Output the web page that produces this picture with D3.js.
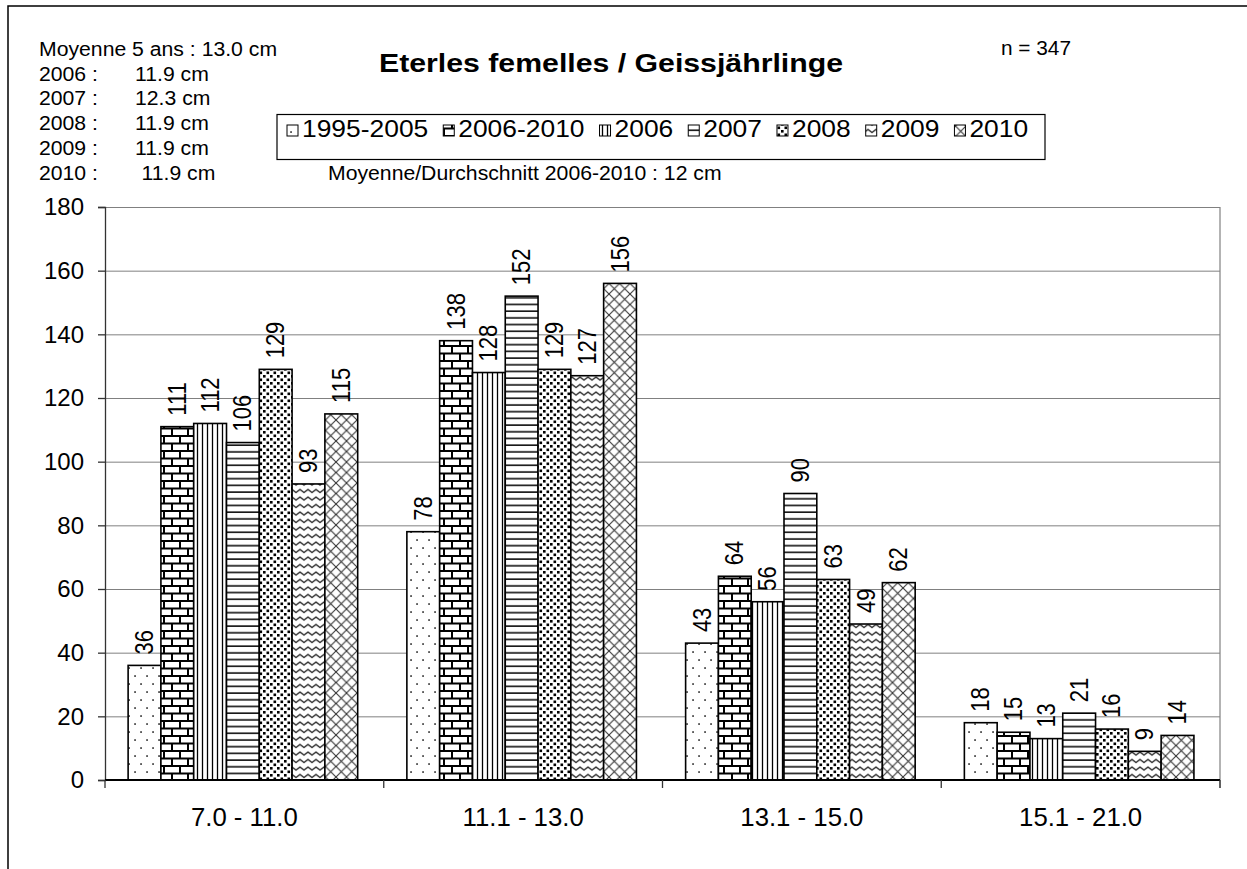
<!DOCTYPE html>
<html>
<head>
<meta charset="utf-8">
<script src="https://cdn.jsdelivr.net/npm/d3@7"></script>
<style>
  html, body { margin: 0; padding: 0; background: #fff; }
  svg { display: block; }
</style>
</head>
<body>
<script>
// ---------- DATA ----------
const categories = ["7.0 - 11.0", "11.1 - 13.0", "13.1 - 15.0", "15.1 - 21.0"];
const seriesNames = ["1995-2005", "2006-2010", "2006", "2007", "2008", "2009", "2010"];
const s1995_2005 = [36, 78, 43, 18];
const s2006_2010 = [111, 138, 64, 15];
const s2006 = [112, 128, 56, 13];
const s2007 = [106, 152, 90, 21];
const s2008 = [129, 129, 63, 16];
const s2009 = [93, 127, 49, 9];
const s2010 = [115, 156, 62, 14];
const yTicks = [0, 20, 40, 60, 80, 100, 120, 140, 160, 180];
const statLabels = ["Moyenne 5 ans : 13.0 cm", "2006 :", "2007 :", "2008 :", "2009 :", "2010 :"];
const statValues = ["", "11.9 cm", "12.3 cm", "11.9 cm", "11.9 cm", "11.9 cm"];
const titleText = "Eterles femelles / Geissjährlinge";
const nText = "n = 347";
const meanText = "Moyenne/Durchschnitt 2006-2010 : 12 cm";

const seriesValues = [s1995_2005, s2006_2010, s2006, s2007, s2008, s2009, s2010];

// ---------- LAYOUT ----------
const W = 1247, H = 869;
const X0 = 105, X1 = 1220, YT = 207, YB = 780;
const FONT = "'Liberation Sans', Arial, Helvetica, sans-serif";

const svg = d3.select("body").append("svg")
  .attr("width", W).attr("height", H)
  .style("font-family", FONT);

function stretch(sel, k) {
  sel.each(function () {
    const L = this.getComputedTextLength();
    d3.select(this).attr("textLength", L * k).attr("lengthAdjust", "spacingAndGlyphs");
  });
}

// ---------- PATTERNS ----------
const defs = svg.append("defs");
const pid = i => "pat" + i;
// 0: sparse dots
let p = defs.append("pattern").attr("id", pid(0)).attr("patternUnits", "userSpaceOnUse").attr("width", 12).attr("height", 16);
p.append("rect").attr("width", 12).attr("height", 16).attr("fill", "#fff");
p.append("rect").attr("x", 2.3).attr("y", 3.3).attr("width", 1.5).attr("height", 1.5).attr("fill", "#000");
p.append("rect").attr("x", 8.3).attr("y", 11.3).attr("width", 1.5).attr("height", 1.5).attr("fill", "#000");
// 1: bricks
p = defs.append("pattern").attr("id", pid(1)).attr("patternUnits", "userSpaceOnUse").attr("width", 16).attr("height", 15);
p.append("rect").attr("width", 16).attr("height", 15).attr("fill", "#fff");
p.append("path").attr("d", "M0,1 H16 M0,8.5 H16 M4,1 V8.5 M12,8.5 V15").attr("stroke", "#000").attr("stroke-width", 2).attr("fill", "none");
// 2: vertical lines
p = defs.append("pattern").attr("id", pid(2)).attr("patternUnits", "userSpaceOnUse").attr("width", 5).attr("height", 10);
p.append("rect").attr("width", 5).attr("height", 10).attr("fill", "#fff");
p.append("path").attr("d", "M2.5,0 V10").attr("stroke", "#000").attr("stroke-width", 1.3);
// 3: horizontal lines
p = defs.append("pattern").attr("id", pid(3)).attr("patternUnits", "userSpaceOnUse").attr("width", 10).attr("height", 6.7);
p.append("rect").attr("width", 10).attr("height", 6.7).attr("fill", "#fff");
p.append("path").attr("d", "M0,3 H10").attr("stroke", "#000").attr("stroke-width", 1.5);
// 4: dense dots
p = defs.append("pattern").attr("id", pid(4)).attr("patternUnits", "userSpaceOnUse").attr("width", 7).attr("height", 7);
p.append("rect").attr("width", 7).attr("height", 7).attr("fill", "#fff");
p.append("rect").attr("x", 0.5).attr("y", 0.5).attr("width", 2.6).attr("height", 2.6).attr("fill", "#000");
p.append("rect").attr("x", 4).attr("y", 4).attr("width", 2.6).attr("height", 2.6).attr("fill", "#000");
// 5: waves
p = defs.append("pattern").attr("id", pid(5)).attr("patternUnits", "userSpaceOnUse").attr("width", 8).attr("height", 7.5);
p.append("rect").attr("width", 8).attr("height", 7.5).attr("fill", "#fff");
p.append("path").attr("d", "M-2,3.5 L0,5 L4,2 L8,5 L10,3.5").attr("stroke", "#222").attr("stroke-width", 1.2).attr("fill", "none");
// 6: diagonal crosshatch
p = defs.append("pattern").attr("id", pid(6)).attr("patternUnits", "userSpaceOnUse").attr("width", 10.5).attr("height", 10.5);
p.append("rect").attr("width", 10.5).attr("height", 10.5).attr("fill", "#fff");
p.append("path").attr("d", "M-1,-1 L11.5,11.5 M11.5,-1 L-1,11.5").attr("stroke", "#333").attr("stroke-width", 1.1);

// ---------- FRAME ----------
svg.append("path").attr("d", `M8,${H} V6 H${W}`).attr("fill", "none").attr("stroke", "#000").attr("stroke-width", 1.5);

// ---------- SCALES ----------
const x = d3.scaleBand().domain(categories).range([X0, X1]).paddingInner(0).paddingOuter(0);
const xs = d3.scaleBand().domain(seriesNames).range([0, x.bandwidth()]).paddingInner(0).paddingOuter(0.75).align(0.47);
const y = d3.scaleLinear().domain([0, 180]).range([YB, YT]);

// gridlines
svg.append("g").attr("transform", `translate(${X0},0)`)
  .call(d3.axisLeft(y).tickValues(yTicks.filter(t => t > 0)).tickSize(-(X1 - X0)).tickFormat(""))
  .call(g => g.select(".domain").remove())
  .call(g => g.selectAll("line").attr("stroke", "#808080").attr("stroke-width", 1));

// right edge
svg.append("line").attr("x1", X1).attr("x2", X1).attr("y1", YT).attr("y2", YB + 8)
  .attr("stroke", "#808080").attr("stroke-width", 1.2);

// y axis
const gy = svg.append("g").attr("transform", `translate(${X0},0)`)
  .call(d3.axisLeft(y).tickValues(yTicks).tickSize(7).tickPadding(14));
gy.select(".domain").attr("stroke", "#333").attr("stroke-width", 1.3);
gy.selectAll(".tick line").attr("stroke", "#333").attr("stroke-width", 1.3);
gy.selectAll(".tick text").attr("font-size", 24).attr("fill", "#000").attr("font-family", FONT);

// bars
const bars = svg.append("g");
seriesNames.forEach((s, i) => {
  bars.selectAll(null).data(seriesValues[i]).enter().append("rect")
    .attr("x", (d, j) => x(categories[j]) + xs(s))
    .attr("y", d => y(d))
    .attr("width", xs.bandwidth())
    .attr("height", d => y(0) - y(d))
    .attr("fill", `url(#${pid(i)})`)
    .attr("stroke", "#000").attr("stroke-width", 1.6);
});

// x axis line and boundary ticks
const bounds = categories.map(c => x(c)).concat([X1]);
svg.append("line").attr("x1", X0).attr("x2", X1).attr("y1", YB).attr("y2", YB).attr("stroke", "#000").attr("stroke-width", 2);
svg.append("g").selectAll("line").data(bounds).enter().append("line")
  .attr("x1", d => d).attr("x2", d => d).attr("y1", YB).attr("y2", YB + 8)
  .attr("stroke", "#333").attr("stroke-width", 1.3);

// category labels
const catT = svg.append("g").selectAll("text").data(categories).enter().append("text")
  .attr("x", d => x(d) + x.bandwidth() / 2).attr("y", 826)
  .attr("text-anchor", "middle").attr("font-size", 25).attr("fill", "#000")
  .text(d => d);
stretch(catT, 1.03);

// value labels (rotated)
const lab = svg.append("g");
seriesNames.forEach((s, i) => {
  lab.selectAll(null).data(seriesValues[i]).enter().append("text")
    .attr("transform", (d, j) => `translate(${x(categories[j]) + xs(s) + xs.bandwidth() / 2},${y(d) - 11}) scale(1.15,1) rotate(-90)`)
    .attr("text-anchor", "start").attr("dominant-baseline", "central")
    .attr("font-size", 22).attr("fill", "#000")
    .text(d => d);
});

// ---------- TITLE & TEXTS ----------
const tt = svg.append("text").attr("x", 611).attr("y", 72).attr("text-anchor", "middle")
  .attr("font-size", 25).attr("font-weight", "bold").text(titleText);
tt.attr("textLength", 464).attr("lengthAdjust", "spacingAndGlyphs");

const nt = svg.append("text").attr("x", 1001).attr("y", 55).attr("font-size", 20).text(nText);
stretch(nt, 1.04);

const statG = svg.append("g");
statLabels.forEach((l, i) => {
  const t = statG.append("text").attr("x", 39).attr("y", 56 + i * 24.7).attr("font-size", 20).text(l);
  stretch(t, 1.06);
  if (statValues[i]) {
    const v = statG.append("text").attr("x", i === 5 ? 141.5 : 135).attr("y", 56 + i * 24.7).attr("font-size", 20).text(statValues[i]);
    stretch(v, 1.06);
  }
});

const mt = svg.append("text").attr("x", 328).attr("y", 179.5).attr("font-size", 20).text(meanText);
stretch(mt, 1.06);

// ---------- LEGEND ----------
const leg = svg.append("g");
leg.append("rect").attr("x", 277).attr("y", 114.5).attr("width", 768).attr("height", 45)
  .attr("fill", "#fff").attr("stroke", "#000").attr("stroke-width", 1.2);
let lx = 287;
seriesNames.forEach((s, i) => {
  leg.append("rect").attr("x", lx).attr("y", 125).attr("width", 11).attr("height", 11)
    .attr("fill", `url(#${pid(i)})`).attr("stroke", "#000").attr("stroke-width", 1);
  const t = leg.append("text").attr("x", lx + 15).attr("y", 137).attr("font-size", 24).text(s);
  stretch(t, 1.1);
  lx += 15 + (+t.attr("textLength")) + 15;
});
</script>
</body>
</html>
